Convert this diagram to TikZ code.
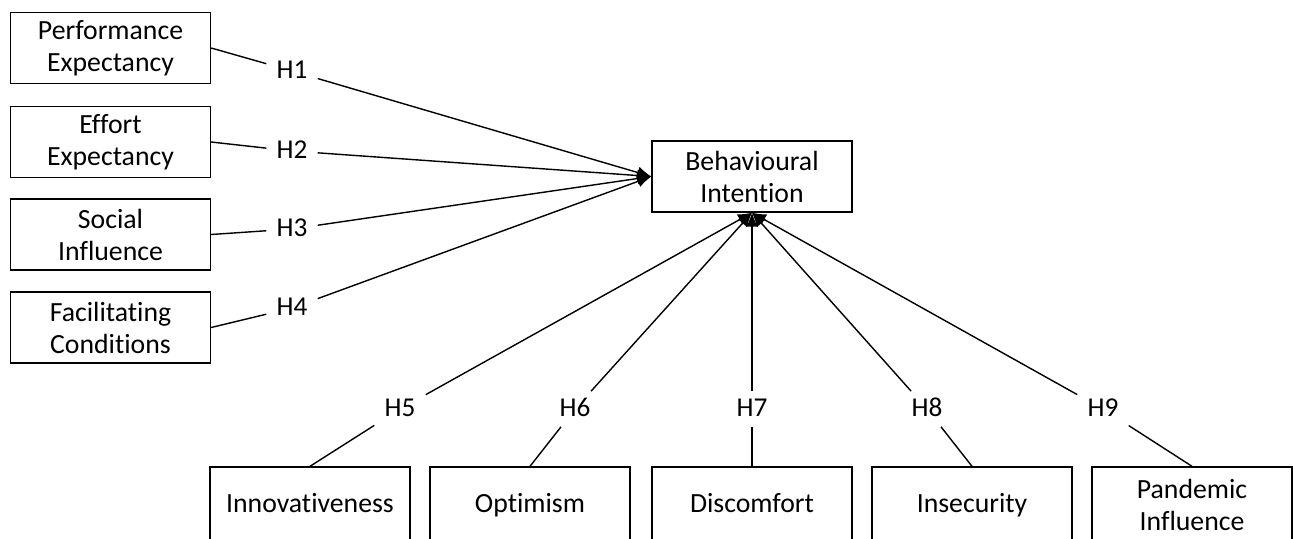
\documentclass[tikz,border=0pt]{standalone}
\usepackage{fontspec}
\setmainfont{Carlito}[Ligatures=NoCommon]
\usepackage{tikz}
\usetikzlibrary{arrows.meta}

\begin{document}
\begin{tikzpicture}[x=0.02cm, y=-0.02cm,
    construct/.style={draw, line width=0.8pt, minimum width=4cm, minimum height=1.42cm,
        align=center, font=\fontsize{15.8}{18.2}\selectfont},
    single/.style={construct, minimum height=1.52cm, text height=0.38cm, text depth=0.1cm},
    hyp/.style={inner sep=0.2cm, text height=0.3cm, text depth=0cm,
        font=\fontsize{15.5}{18}\selectfont},
    link/.style={line width=0.8pt},
    path/.style={link, -{Latex[length=0.28cm,width=0.24cm]}}]
    \useasboundingbox (0,0) rectangle (1293,538);

    % Predictors on the left
    \node[construct] (perf) at (110.5,48) {Performance\\Expectancy};
    \node[construct] (eff) at (110.5,142) {Effort\\Expectancy};
    \node[construct] (soc) at (110.5,234.5) {Social\\Influence};
    \node[construct] (fac) at (110.5,327.5) {Facilitating\\Conditions};

    % Outcome
    \node[construct] (bi) at (752,176.5) {Behavioural\\Intention};

    % Predictors at the bottom
    \node[single] (inno) at (310,505) {Innovativeness};
    \node[single] (opti) at (530,505) {Optimism};
    \node[single] (disc) at (752,505) {Discomfort};
    \node[single] (insec) at (972,505) {Insecurity};
    \node[construct, minimum height=1.52cm] (pand) at (1192,505) {Pandemic\\Influence};

    % Hypotheses
    \node[hyp] (h1) at (292,71) {H1};
    \node[hyp] (h2) at (292,151) {H2};
    \node[hyp] (h3) at (292,229) {H3};
    \node[hyp] (h4) at (292,308) {H4};
    \node[hyp] (h5) at (400,409) {H5};
    \node[hyp] (h6) at (575,409) {H6};
    \node[hyp] (h7) at (752,409) {H7};
    \node[hyp] (h8) at (927,409) {H8};
    \node[hyp] (h9) at (1103,409) {H9};

    % Paths
    \draw[link] (perf.east) -- (h1);
    \draw[path] (h1) -- (bi.west);
    \draw[link] (eff.east) -- (h2);
    \draw[path] (h2) -- (bi.west);
    \draw[link] (soc.east) -- (h3);
    \draw[path] (h3) -- (bi.west);
    \draw[link] (fac.east) -- (h4);
    \draw[path] (h4) -- (bi.west);

    \draw[link] (inno.north) -- (h5);
    \draw[path] (h5) -- (bi.south);
    \draw[link] (opti.north) -- (h6);
    \draw[path] (h6) -- (bi.south);
    \draw[link] (disc.north) -- (h7);
    \draw[path] (h7) -- (bi.south);
    \draw[link] (insec.north) -- (h8);
    \draw[path] (h8) -- (bi.south);
    \draw[link] (pand.north) -- (h9);
    \draw[path] (h9) -- (bi.south);
\end{tikzpicture}
\end{document}
